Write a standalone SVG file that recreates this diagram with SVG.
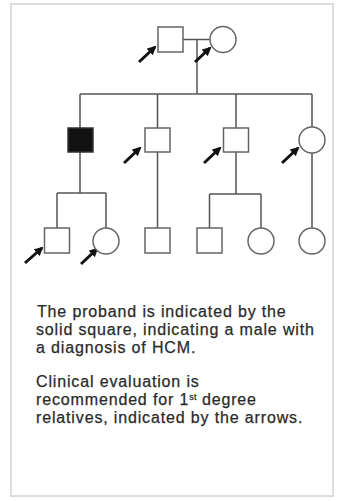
<svg xmlns="http://www.w3.org/2000/svg" width="338" height="501" viewBox="0 0 338 501">
<style>
.ln{fill:none;stroke:#555;stroke-width:1.5}
.sh{fill:#fff;stroke:#666;stroke-width:1.5}
.aff{fill:#111;stroke:#333;stroke-width:1.5}
.ar{stroke:#111;stroke-width:3;marker-end:url(#ah)}
.tx{font-family:"Liberation Sans",Arial,sans-serif;font-size:16px;fill:#2a2a2a;stroke:#2a2a2a;stroke-width:0.25;letter-spacing:0.85px}
</style>
<defs>
<marker id="ah" viewBox="0 0 10 10" refX="8" refY="5" markerWidth="3" markerHeight="3" orient="auto" markerUnits="strokeWidth">
<path d="M0,0 L10,5 L0,10 z" fill="#111"/>
</marker>
</defs>
<rect x="0" y="0" width="338" height="501" fill="#fff"/>
<rect x="11" y="4" width="322" height="492" fill="#fff" stroke="#ddd" stroke-width="2"/>
<g id="connectors">
<path class="ln" d="M183,39.5 H210 M197,39.5 V94 M80,94 H312 M80,94 V128 M157.5,94 V128 M236,94 V128 M312,94 V127"/>
<path class="ln" d="M80,152 V193 M57,193 H106 M57,193 V228 M106,193 V228"/>
<path class="ln" d="M157.5,152 V228"/>
<path class="ln" d="M236,152 V194 M209.5,194 H261 M209.5,194 V228 M261,194 V228"/>
<path class="ln" d="M312,153 V228"/>
</g>
<g id="arrows">
<line class="ar" x1="139" y1="62" x2="155" y2="47"/>
<line class="ar" x1="195" y1="62" x2="210" y2="48"/>
<line class="ar" x1="124" y1="163" x2="140" y2="148"/>
<line class="ar" x1="204" y1="163" x2="220" y2="148"/>
<line class="ar" x1="282" y1="163" x2="298" y2="148"/>
<line class="ar" x1="25" y1="263" x2="42" y2="248"/>
<line class="ar" x1="81" y1="264" x2="97" y2="249"/>
</g>
<g id="father"><rect class="sh" x="158" y="27" width="25" height="25"/></g>
<g id="mother"><circle class="sh" cx="223" cy="39.5" r="13"/></g>
<g id="proband"><rect class="aff" x="68" y="128" width="25" height="24"/></g>
<g id="brother1"><rect class="sh" x="145" y="128" width="25" height="24"/></g>
<g id="brother2"><rect class="sh" x="223.5" y="128" width="25" height="24"/></g>
<g id="sister"><circle class="sh" cx="312" cy="140" r="13"/></g>
<g id="proband-son"><rect class="sh" x="44.5" y="228" width="25" height="25"/></g>
<g id="proband-daughter"><circle class="sh" cx="106" cy="241" r="13"/></g>
<g id="brother1-son"><rect class="sh" x="145" y="228" width="25" height="25"/></g>
<g id="brother2-son"><rect class="sh" x="197" y="228" width="25" height="25"/></g>
<g id="brother2-daughter"><circle class="sh" cx="261" cy="241" r="13"/></g>
<g id="sister-daughter"><circle class="sh" cx="312" cy="241" r="13"/></g>
<g id="caption">
<text class="tx" x="37" y="317">The proband is indicated by the</text>
<text class="tx" x="36" y="335">solid square, indicating a male with</text>
<text class="tx" x="36" y="353">a diagnosis of HCM.</text>
<text class="tx" x="36" y="387">Clinical evaluation is</text>
<text class="tx" x="36" y="405">recommended for 1<tspan font-size="9" baseline-shift="5" letter-spacing="0.2">st</tspan> degree</text>
<text class="tx" x="36" y="423">relatives, indicated by the arrows.</text>
</g>
</svg>
